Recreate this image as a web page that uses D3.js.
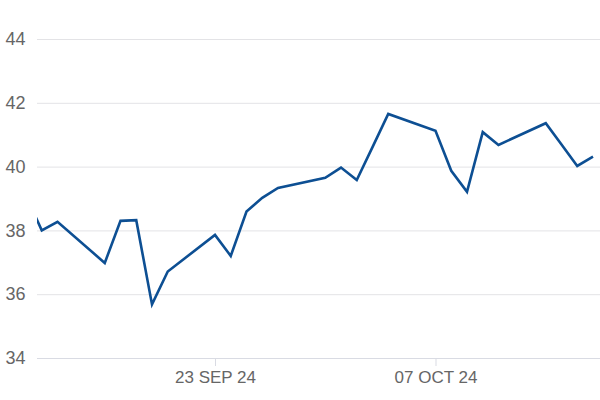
<!DOCTYPE html>
<html lang="en">
<head>
  <meta charset="UTF-8">
  <title>Price chart</title>
  <script src="https://d3js.org/d3.v7.min.js"></script>
  <style>
    body { margin: 0; background: #fff; }
    svg { display: block; }
    .tick text { font-family: Arial, "Liberation Sans", sans-serif; fill: #666; }
  </style>
</head>
<body>
  <div id="chart"></div>
  <script>
    // daily closes
    const dates = [
      "2024-09-11", "2024-09-12", "2024-09-13", "2024-09-16", "2024-09-17",
      "2024-09-18", "2024-09-19", "2024-09-20", "2024-09-23", "2024-09-24",
      "2024-09-25", "2024-09-26", "2024-09-27", "2024-09-30", "2024-10-01",
      "2024-10-02", "2024-10-03", "2024-10-04", "2024-10-07", "2024-10-08",
      "2024-10-09", "2024-10-10", "2024-10-11", "2024-10-14", "2024-10-15",
      "2024-10-16", "2024-10-17"
    ];
    const values = [
      39.1, 38.0, 38.27, 36.98, 38.3,
      38.32, 35.68, 36.71, 37.86, 37.2,
      38.59, 39.02, 39.33, 39.65, 39.97,
      39.58, 40.61, 41.65, 41.12, 39.87,
      39.21, 41.08, 40.68, 41.36, 40.69,
      40.02, 40.31
    ];
    const yTicks = [34, 36, 38, 40, 42, 44];
    const xTickDates = ["2024-09-23", "2024-10-07"];

    const width = 600, height = 400;
    const m = { left: 37, right: 600, top: 39, bottom: 358 };

    const parse = d3.timeParse("%Y-%m-%d");
    const data = dates.map((d, i) => ({ date: parse(d), value: values[i] }));

    const svg = d3.select("#chart").append("svg")
      .attr("width", width)
      .attr("height", height);

    // two labelled dates fix the time scale, plot is clipped to the grid area
    const x = d3.scaleTime()
      .domain([parse("2024-09-23"), parse("2024-10-07")])
      .range([215, 435.5]);
    const y = d3.scaleLinear()
      .domain([34, 44])
      .range([m.bottom, m.top]);

    // horizontal grid + left labels
    const yAxis = svg.append("g")
      .attr("transform", `translate(${m.left},0)`)
      .call(d3.axisLeft(y).tickValues(yTicks).tickSize(-(m.right - m.left)).tickPadding(12).tickFormat(d3.format("d")));
    yAxis.select(".domain").remove();
    yAxis.selectAll(".tick line").attr("stroke", "#e3e3e6").attr("stroke-width", 1);
    yAxis.selectAll(".tick text").attr("font-size", 18).attr("dx", "0.5");
    yAxis.selectAll(".tick").filter(d => d === 34).select("line").attr("stroke", "#d9dbe3");

    // bottom date ticks
    const xAxis = svg.append("g")
      .attr("transform", `translate(0,${m.bottom})`)
      .call(d3.axisBottom(x)
        .tickValues(xTickDates.map(parse))
        .tickSize(8)
        .tickPadding(5)
        .tickFormat(d => d3.timeFormat("%d %b %y")(d).toUpperCase()));
    xAxis.select(".domain").remove();
    xAxis.selectAll(".tick line").attr("stroke", "#d9dbe3");
    xAxis.selectAll(".tick text").attr("font-size", 17);

    svg.append("clipPath").attr("id", "clip")
      .append("rect")
      .attr("x", m.left).attr("y", 0)
      .attr("width", m.right - m.left).attr("height", height);

    const line = d3.line()
      .x(d => x(d.date))
      .y(d => y(d.value));

    svg.append("path")
      .datum(data)
      .attr("clip-path", "url(#clip)")
      .attr("fill", "none")
      .attr("stroke", "#0d4f93")
      .attr("stroke-width", 2.6)
      .attr("stroke-linejoin", "miter")
      .attr("d", line);
  </script>
</body>
</html>
